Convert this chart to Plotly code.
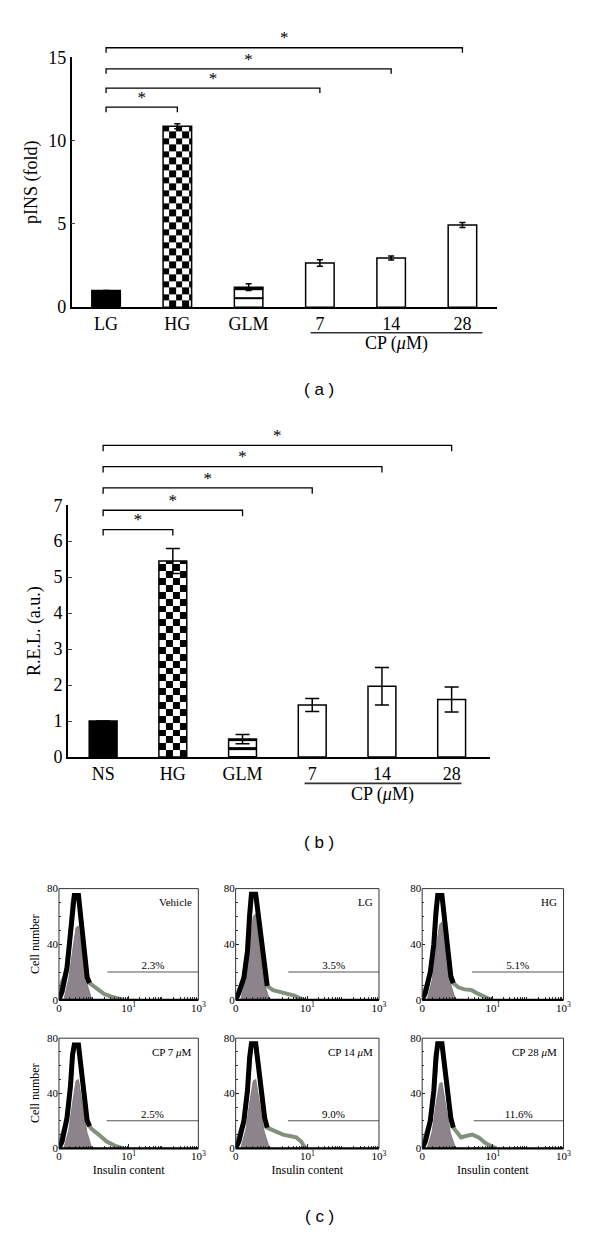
import numpy as np
import plotly.graph_objects as go

W, H = 600, 1242
SERIF = "Liberation Serif"
SANS = "Liberation Sans"

# ---------------- Panel (a) data ----------------
a_cats = ["LG", "HG", "GLM", "7", "14", "28"]
a_vals = [1.0, 10.85, 1.2, 2.65, 2.95, 4.93]
a_errs = [0.0, 0.15, 0.2, 0.2, 0.12, 0.15]
a_sig_to = [1, 3, 4, 5]
a_sig_h = [12.0, 13.15, 14.3, 15.57]
a_yticks = [0, 5, 10, 15]

# ---------------- Panel (b) data ----------------
b_cats = ["NS", "HG", "GLM", "7", "14", "28"]
b_vals = [1.0, 5.45, 0.5, 1.45, 1.97, 1.6]
b_errs = [0.0, 0.35, 0.13, 0.18, 0.52, 0.35]
b_sig_to = [1, 2, 3, 4, 5]
b_sig_h = [6.32, 6.86, 7.48, 8.07, 8.66]
b_yticks = [0, 1, 2, 3, 4, 5, 6, 7]

bar_fill = ["black", "rgba(0,0,0,0)", "rgba(0,0,0,0)", "white", "white", "white"]

# ---------------- Panel (c) data (x in log10 units) ----------------
c_names = ["Vehicle", "LG", "HG", "CP 7 <i>μ</i>M", "CP 14 <i>μ</i>M", "CP 28 <i>μ</i>M"]
c_pct = ["2.3%", "3.5%", "5.1%", "2.5%", "9.0%", "11.6%"]
c_gate_start = [0.39, 0.47, 0.41, 0.37, 0.46, 0.46]
c_gate_level = 20
c_xticks = [0.1, 10, 1000]
c_xticktext = ["0", "10<sup>1</sup>", "10<sup>3</sup>"]
c_yticks = [0, 40, 80]

peak_x = [-1.0, -0.91, -0.77, -0.67, -0.61, -0.56, -0.44, -0.36, -0.27, -0.19, -0.12]
peak_y = [
    [0, 6, 23, 47, 70, 75, 75, 56, 32, 16, 12],
    [0, 5, 16, 35, 61, 76, 76, 60, 40, 20, 10],
    [0, 5, 20, 40, 63, 75, 75, 55, 35, 17, 12],
    [0, 5, 22, 45, 68, 75, 75, 58, 36, 20, 16],
    [0, 5, 20, 42, 66, 76, 76, 58, 38, 22, 15],
    [0, 5, 20, 42, 66, 76, 76, 58, 38, 22, 15],
]
shoulder_x = [-1.0, -0.96, -0.91, -0.84]
shoulder_y = [
    [0, 8, 13, 17],
    [0, 4, 7, 11],
    [0, 5, 8, 13],
    [0, 6, 10, 15],
    [0, 6, 9, 14],
    [0, 6, 9, 14],
]
fill_x = [-0.86, -0.72, -0.61, -0.51, -0.44, -0.34, -0.20, -0.08, -0.02]
fill_y = [
    [0, 15, 35, 52, 53, 35, 12, 2, 0],
    [0, 15, 40, 60, 62, 40, 12, 2, 0],
    [0, 14, 36, 54, 56, 37, 12, 2, 0],
    [0, 13, 33, 49, 50, 34, 12, 2, 0],
    [0, 13, 33, 49, 50, 34, 12, 2, 0],
    [0, 12, 32, 47, 48, 32, 11, 2, 0],
]
tail_x = [
    [-0.02, 0.12, 0.31, 0.54, 0.83],
    [0.04, 0.20, 0.36, 0.64, 0.80, 0.92],
    [0.02, 0.20, 0.39, 0.53, 0.72, 0.95],
    [-0.06, 0.14, 0.37, 0.60, 0.84],
    [-0.04, 0.14, 0.32, 0.51, 0.69, 0.83, 0.92, 1.0],
    [-0.04, 0.10, 0.24, 0.42, 0.60, 0.78, 0.96, 1.1],
]
tail_y = [
    [10, 7, 4, 2, 0],
    [7, 6, 5, 3, 1, 0],
    [9, 7.5, 7, 5, 2.5, 0],
    [14, 10, 5, 2, 0],
    [14, 12, 10, 9, 8, 5, 1, 0],
    [12, 8, 9, 10, 8, 4, 1.5, 0],
]

# ---------------- geometry helpers (pixels -> paper) ----------------
def xd(p0, p1):
    return [p0 / W, p1 / W]


def yd(top, bot):
    return [1 - bot / H, 1 - top / H]


A_X, A_Y, A_TOP = (70, 503), (48, 302), 12
B_X, B_Y, B_TOP = (66, 496), (503.3, 759.3), 425
a_xr = [-0.482, 5.482]
b_xr = [-0.507, 5.549]
a_pxu = (A_Y[1] - A_Y[0]) / 15.0
b_pxu = (B_Y[1] - B_Y[0]) / 7.0

fig = go.Figure()
BW = dict(colorscale=[[0, "white"], [1, "black"]], zmin=0, zmax=1, showscale=False,
          hoverinfo="skip")


def checker(center, width, top, ncols, sq, xa, ya):
    xe = np.arange(center - width / 2, center + width / 2 - 1e-9, width / ncols)
    xe = np.append(xe, center + width / 2)
    ye = np.arange(0, top - 1e-9, sq)
    ye = np.append(ye, top)
    z = np.add.outer(np.arange(len(ye) - 1), np.arange(len(xe) - 1)) % 2
    return go.Heatmap(x=xe, y=ye, z=z, xaxis=xa, yaxis=ya, **BW)


def stripes(center, width, top, period, thick, xa, ya):
    # horizontal black stripes, counted down from the bar top
    edges, vals = [top], []
    cur = top
    while cur > 1e-9:
        lo = max(cur - thick, 0)
        edges.append(lo)
        vals.append(1)
        cur = lo
        if cur <= 1e-9:
            break
        lo = max(cur - (period - thick), 0)
        edges.append(lo)
        vals.append(0)
        cur = lo
    ye = edges[::-1]
    z = [[v] for v in vals[::-1]]
    return go.Heatmap(x=[center - width / 2, center + width / 2], y=ye, z=z,
                      xaxis=xa, yaxis=ya, **BW)


def bars(vals, errs, xa, ya, cap):
    return go.Bar(x=list(range(len(vals))), y=vals, width=0.4, xaxis=xa, yaxis=ya,
                  marker=dict(color=bar_fill, line=dict(color="black", width=1.5)),
                  error_y=dict(type="data", array=errs, color="black",
                               thickness=1.5, width=cap),
                  hoverinfo="skip", showlegend=False)


def brackets(tos, hs, d, xa, ya):
    out = []
    for j, h in zip(tos, hs):
        out.append(go.Scatter(x=[0, 0, j, j], y=[h - d, h, h, h - d], mode="lines",
                              line=dict(color="black", width=1.3), xaxis=xa, yaxis=ya,
                              hoverinfo="skip", showlegend=False))
        out.append(go.Scatter(x=[j / 2], y=[h], mode="text", text=["*"],
                              textposition="top center",
                              textfont=dict(family=SERIF, size=17, color="black"),
                              xaxis=xa, yaxis=ya, hoverinfo="skip", showlegend=False,
                              cliponaxis=False))
    return out


# Panel a traces
fig.add_trace(checker(1, 0.4, a_vals[1], 4.4, 6.6 / a_pxu, "x", "y"))
fig.add_trace(stripes(2, 0.4, a_vals[2], 10 / a_pxu, 2.6 / a_pxu, "x", "y"))
fig.add_trace(bars(a_vals, a_errs, "x", "y", 3))
for t in brackets(a_sig_to, a_sig_h, 5 / a_pxu, "x", "y2"):
    fig.add_trace(t)

# Panel b traces
fig.add_trace(checker(1, 0.4, b_vals[1], 4, 7.0 / b_pxu, "x2", "y3"))
fig.add_trace(stripes(2, 0.4, b_vals[2], 8.5 / b_pxu, 2.2 / b_pxu, "x2", "y3"))
fig.add_trace(bars(b_vals, b_errs, "x2", "y3", 7))
for t in brackets(b_sig_to, b_sig_h, 6 / b_pxu, "x2", "y4"):
    fig.add_trace(t)

axis_font = dict(family=SERIF, size=18, color="black")

layout = dict(
    width=W, height=H, margin=dict(l=0, r=0, t=0, b=0),
    paper_bgcolor="white", plot_bgcolor="rgba(0,0,0,0)", showlegend=False,
    font=dict(family=SERIF, color="black"),
    xaxis=dict(domain=xd(*A_X), anchor="y", range=a_xr, tickvals=list(range(6)),
               ticktext=a_cats, showline=True, linecolor="black", linewidth=1.5,
               ticks="", showgrid=False, zeroline=False, tickfont=axis_font),
    yaxis=dict(domain=yd(*A_Y), anchor="x", range=[0, 15], tickvals=a_yticks,
               showline=True, linecolor="black", linewidth=1.5, ticks="inside",
               ticklen=4, tickwidth=1.3, showgrid=False, zeroline=False,
               tickfont=axis_font,
               title=dict(text="pINS (fold)", font=axis_font, standoff=6)),
    yaxis2=dict(domain=yd(A_TOP, A_Y[1]), anchor="x", visible=False,
                range=[0, (A_Y[1] - A_TOP) / a_pxu]),
    xaxis2=dict(domain=xd(*B_X), anchor="y3", range=b_xr, tickvals=list(range(6)),
                ticktext=b_cats, showline=True, linecolor="black", linewidth=1.5,
                ticks="", showgrid=False, zeroline=False, tickfont=axis_font),
    yaxis3=dict(domain=yd(*B_Y), anchor="x2", range=[0, 7], tickvals=b_yticks,
                showline=True, linecolor="black", linewidth=1.5, ticks="inside",
                ticklen=4, tickwidth=1.3, showgrid=False, zeroline=False,
                tickfont=axis_font,
                title=dict(text="R.E.L. (a.u.)", font=axis_font, standoff=8)),
    yaxis4=dict(domain=yd(B_TOP, B_Y[1]), anchor="x2", visible=False,
                range=[0, (B_Y[1] - B_TOP) / b_pxu]),
)

shapes = []
annotations = []

# Panel c
cols = [(57, 199), (237, 383), (427, 571)]
rows = [(893, 1006), (1045, 1157)]
minor_x = [k * 10.0 ** d for d in range(-1, 3) for k in range(2, 10)]
small = dict(family=SERIF, size=11, color="black")
for i in range(6):
    r, c = divmod(i, 3)
    xa, ya = f"x{3 + i}", f"y{5 + i}"
    xk, yk = f"xaxis{3 + i}", f"yaxis{5 + i}"
    layout[xk] = dict(domain=xd(*cols[c]), anchor=ya, type="log", range=[-1, 3],
                      tickvals=c_xticks, ticktext=c_xticktext, ticks="inside",
                      ticklen=4, tickcolor="#222", showline=False,
                      showgrid=False, zeroline=False, tickfont=small,
                      minor=dict(tickvals=minor_x, ticks="inside", ticklen=2.5,
                                 tickcolor="#333", showgrid=False))
    if r == 1:
        layout[xk]["title"] = dict(text="Insulin content", font=dict(family=SERIF, size=12),
                                   standoff=4)
    layout[yk] = dict(domain=yd(*rows[r]), anchor=xa, range=[0, 80], tickvals=c_yticks,
                      ticks="inside", ticklen=3, tickcolor="#222", showline=False,
                      showgrid=False, zeroline=False, tickfont=small,
                      minor=dict(dtick=10, ticks="inside", ticklen=2, tickcolor="#333",
                                 showgrid=False))
    if c == 0:
        layout[yk]["title"] = dict(text="Cell number", font=dict(family=SERIF, size=12),
                                   standoff=4)
    # frame + heavy baseline
    shapes.append(dict(type="rect", xref=f"{xa} domain", yref=f"{ya} domain",
                       x0=0, x1=1, y0=0, y1=1, line=dict(color="#333", width=1),
                       layer="above"))
    shapes.append(dict(type="line", xref=f"{xa} domain", yref=f"{ya} domain",
                       x0=0, x1=1, y0=0, y1=0, line=dict(color="black", width=2.2),
                       layer="above"))

    fx = [10 ** v for v in fill_x]
    fig.add_trace(go.Scatter(x=fx, y=fill_y[i], mode="lines", fill="tozeroy",
                             fillcolor="#8d848b", line=dict(color="#7a7178", width=0.8),
                             xaxis=xa, yaxis=ya, hoverinfo="skip", showlegend=False))
    gx = [10 ** v for v in shoulder_x + peak_x[2:] + tail_x[i]]
    gy = shoulder_y[i] + peak_y[i][2:] + tail_y[i]
    fig.add_trace(go.Scatter(x=gx, y=gy, mode="lines",
                             line=dict(color="#84907f", width=4),
                             xaxis=xa, yaxis=ya, hoverinfo="skip", showlegend=False))
    px_ = [10 ** v for v in peak_x]
    fig.add_trace(go.Scatter(x=px_, y=peak_y[i], mode="lines",
                             line=dict(color="black", width=5),
                             xaxis=xa, yaxis=ya, hoverinfo="skip", showlegend=False))
    fig.add_trace(go.Scatter(x=[10 ** c_gate_start[i], 1000], y=[c_gate_level] * 2,
                             mode="lines", line=dict(color="#555", width=1.1),
                             xaxis=xa, yaxis=ya, hoverinfo="skip", showlegend=False))
    fig.add_trace(go.Scatter(x=[10 ** ((c_gate_start[i] + 3) / 2)], y=[c_gate_level],
                             mode="text", text=[c_pct[i]], textposition="top center",
                             textfont=small, xaxis=xa, yaxis=ya, hoverinfo="skip",
                             showlegend=False, cliponaxis=False))

fig.update_layout(**layout)

# Underlines, group labels, panel letters
for xa, lo, hi, ypx, typx in [("x", 3 - 0.13, 5 + 0.28, 328, 339),
                                ("x2", 3 - 0.11, 5 + 0.14, 786, 797)]:
    shapes.append(dict(type="line", xref=xa, yref="paper", x0=lo, x1=hi,
                       y0=1 - ypx / H, y1=1 - ypx / H, line=dict(color="#333", width=1.6)))
    annotations.append(dict(xref=xa, yref="paper", x=(lo + hi) / 2, y=1 - typx / H,
                            text="CP (<i>μ</i>M)", showarrow=False, yanchor="middle",
                            font=axis_font))
for lab, ypx in [("( a )", 386), ("( b )", 846), ("( c )", 1226)]:
    annotations.append(dict(xref="paper", yref="paper", x=322 / W, y=1 - ypx / H,
                            text=lab, showarrow=False, yanchor="middle",
                            font=dict(family=SANS, size=17, color="black")))
for i in range(6):
    annotations.append(dict(xref=f"x{3 + i} domain", yref=f"y{5 + i} domain",
                            x=0.97, y=0.95, xanchor="right", yanchor="top",
                            text=c_names[i], showarrow=False, font=small))
fig.update_layout(shapes=shapes, annotations=annotations)

fig.write_html("out.html", config={"displayModeBar": False},
               post_script="document.body.style.margin='0px';")
